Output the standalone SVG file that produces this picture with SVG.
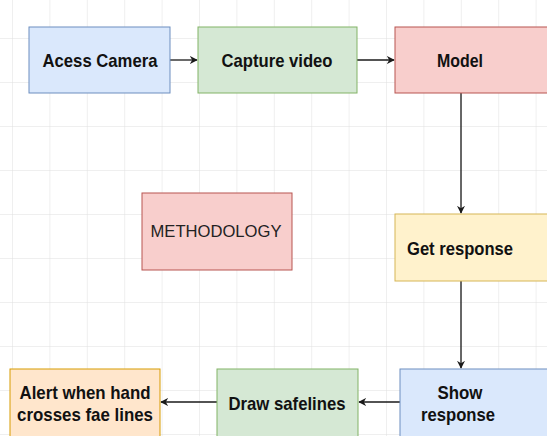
<svg xmlns="http://www.w3.org/2000/svg" width="547" height="436" viewBox="0 0 547 436">
<defs>
<pattern id="grid" x="12" y="38" width="37.4" height="44" patternUnits="userSpaceOnUse">
<path d="M0 0 H37.4 M0 0 V44" fill="none" stroke="#e0e0e0" stroke-width="1"/>
</pattern>
<marker id="arr" viewBox="0 0 10 10" refX="9" refY="5" markerWidth="8" markerHeight="8" markerUnits="userSpaceOnUse" orient="auto">
<path d="M0 0 L10 5 L0 10 L3 5 Z" fill="#1a1a1a"/>
</marker>
</defs>
<style>
.b{font-family:"Liberation Sans",Arial,sans-serif;font-weight:bold;font-size:18.5px;fill:#111;text-anchor:middle;dominant-baseline:central}
.r{font-family:"Liberation Sans",Arial,sans-serif;font-size:17px;fill:#222;text-anchor:middle;dominant-baseline:central}
.blue{fill:#dae8fc;stroke:#6c8ebf}
.green{fill:#d5e8d4;stroke:#82b366}
.red{fill:#f8cecc;stroke:#b85450}
.yellow{fill:#fff2cc;stroke:#d6b656}
.orange{fill:#ffe6cc;stroke:#d79b00}
.e{fill:none;stroke:#1a1a1a;stroke-width:1.3;marker-end:url(#arr)}
</style>
<rect width="547" height="436" fill="#ffffff"/>
<rect width="547" height="436" fill="url(#grid)"/>
<g id="connectors">
<line class="e" x1="170" y1="60" x2="197" y2="60"/>
<line class="e" x1="357" y1="60" x2="394" y2="60"/>
<line class="e" x1="461" y1="93" x2="461" y2="213"/>
<line class="e" x1="461" y1="281" x2="461" y2="368"/>
<line class="e" x1="400" y1="402" x2="359" y2="402"/>
<line class="e" x1="217" y1="402" x2="161" y2="402"/>
</g>
<g id="acess-camera">
<rect class="blue" x="29" y="27" width="141" height="66"/>
<text class="b" x="100" y="60" textLength="115" lengthAdjust="spacingAndGlyphs">Acess Camera</text>
</g>
<g id="capture-video">
<rect class="green" x="198" y="27" width="159" height="66"/>
<text class="b" x="277" y="60" textLength="111" lengthAdjust="spacingAndGlyphs">Capture video</text>
</g>
<g id="model">
<rect class="red" x="395" y="27" width="160" height="66"/>
<text class="b" x="460" y="60" textLength="46" lengthAdjust="spacingAndGlyphs">Model</text>
</g>
<g id="methodology">
<rect class="red" x="142" y="193" width="150" height="77"/>
<text class="r" x="216" y="231" textLength="131" lengthAdjust="spacingAndGlyphs">METHODOLOGY</text>
</g>
<g id="get-response">
<rect class="yellow" x="395" y="214" width="160" height="67"/>
<text class="b" x="460" y="248" textLength="106" lengthAdjust="spacingAndGlyphs">Get response</text>
</g>
<g id="show-response">
<rect class="blue" x="400" y="369" width="155" height="70"/>
<text class="b" x="460" y="392" textLength="45" lengthAdjust="spacingAndGlyphs">Show</text>
<text class="b" x="458" y="414" textLength="74" lengthAdjust="spacingAndGlyphs">response</text>
</g>
<g id="draw-safelines">
<rect class="green" x="217" y="369" width="141" height="70"/>
<text class="b" x="287" y="403" textLength="117" lengthAdjust="spacingAndGlyphs">Draw safelines</text>
</g>
<g id="alert">
<rect class="orange" x="10" y="369" width="150" height="70"/>
<text class="b" x="85" y="392" textLength="131" lengthAdjust="spacingAndGlyphs">Alert when hand</text>
<text class="b" x="85" y="414" textLength="136" lengthAdjust="spacingAndGlyphs">crosses fae lines</text>
</g>
</svg>
